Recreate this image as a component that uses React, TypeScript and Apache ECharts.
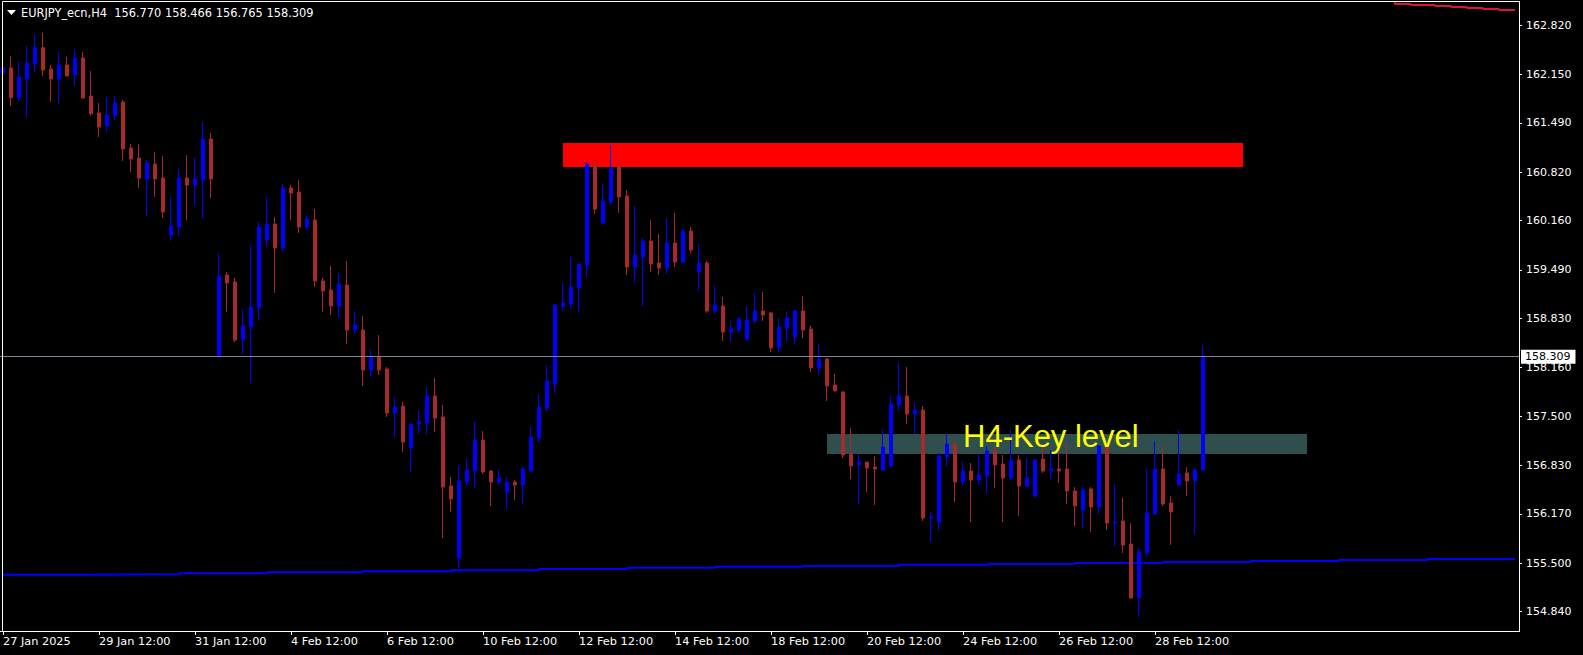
import React, { useEffect, useRef } from "react";
import * as echarts from "echarts";

// ---- chart data ----
const symbolName = "EURJPY_ecn,H4";
const totalSlots = 190; // bar slots shown on the time axis (incl. empty future)
const xTickStep = 12; // bars between time labels
const xTickLabels = [
  "27 Jan 2025", "29 Jan 12:00", "31 Jan 12:00", "4 Feb 12:00", "6 Feb 12:00",
  "10 Feb 12:00", "12 Feb 12:00", "14 Feb 12:00", "18 Feb 12:00", "20 Feb 12:00",
  "24 Feb 12:00", "26 Feb 12:00", "28 Feb 12:00",
];
const yTickValues = [
  154.84, 155.5, 156.17, 156.83, 157.5, 158.16, 158.83, 159.49, 160.16, 160.82,
  161.49, 162.15, 162.82,
];
const yRange = [154.578, 163.136];

const open = [
  162.166, 162.238, 161.834, 162.088, 162.296, 162.514, 162.224, 162.088, 162.279, 162.143,
  162.374, 161.857, 161.626, 161.449, 161.589, 161.775, 161.149, 161.013, 160.728, 160.932,
  160.741, 159.966, 160.075, 160.741, 160.646, 160.714, 161.272, 158.320, 159.422, 159.326,
  158.537, 158.714, 158.973, 159.898, 160.115, 159.789, 160.605, 160.551, 160.075, 160.170,
  159.340, 159.217, 159.000, 159.285, 158.673, 158.673, 158.129, 158.306, 158.143, 157.544,
  157.639, 157.068, 157.394, 157.408, 157.775, 157.490, 156.551, 155.571, 156.605, 156.755,
  157.177, 156.755, 156.605, 156.469, 156.605, 156.564, 156.755, 157.204, 157.612, 157.939,
  159.000, 159.027, 159.245, 159.558, 160.932, 160.129, 160.415, 160.891, 160.496, 159.530,
  159.666, 159.884, 159.585, 159.517, 159.857, 159.598, 160.020, 159.462, 159.585, 158.932,
  159.000, 158.646, 158.673, 158.551, 158.796, 158.932, 158.905, 158.428, 158.700, 158.578,
  158.932, 158.687, 158.156, 158.279, 157.925, 157.830, 156.986, 156.837, 156.877, 156.809,
  156.768, 156.823, 157.653, 157.775, 157.530, 157.585, 156.115, 156.061, 156.945, 157.122,
  156.605, 156.755, 156.632, 156.687, 157.027, 156.850, 156.660, 156.905, 156.551, 156.415,
  156.918, 156.755, 156.782, 156.782, 156.483, 156.224, 156.510, 156.265, 157.095, 156.047,
  156.075, 155.762, 155.027, 155.639, 156.170, 156.782, 156.320, 156.564, 156.728, 156.619,
  156.770,
];
const close = [
  162.242, 161.834, 162.115, 162.306, 162.514, 162.211, 162.088, 162.279, 162.129, 162.374,
  161.830, 161.616, 161.435, 161.598, 161.762, 161.136, 161.000, 160.741, 160.945, 160.728,
  160.279, 160.088, 160.741, 160.646, 160.728, 161.272, 160.728, 159.408, 159.313, 158.537,
  158.728, 158.986, 160.075, 160.115, 159.789, 160.605, 160.537, 160.075, 160.183, 159.340,
  159.204, 159.000, 159.299, 158.673, 158.741, 158.129, 158.306, 158.129, 157.544, 157.626,
  157.149, 157.394, 157.422, 157.775, 157.476, 156.537, 156.374, 156.619, 156.768, 157.177,
  156.741, 156.605, 156.660, 156.605, 156.564, 156.782, 157.217, 157.626, 157.979, 159.013,
  159.041, 159.258, 159.571, 160.932, 160.319, 160.428, 160.877, 160.483, 159.530, 159.694,
  159.884, 159.571, 159.517, 159.857, 159.598, 160.020, 159.762, 159.585, 158.932, 159.013,
  158.646, 158.687, 158.823, 158.809, 158.932, 158.877, 158.428, 158.714, 158.836, 158.932,
  158.673, 158.156, 158.279, 157.911, 157.843, 156.973, 156.823, 156.877, 156.796, 156.782,
  157.081, 157.666, 157.775, 157.530, 157.585, 156.115, 156.129, 156.959, 157.122, 156.605,
  156.755, 156.632, 156.700, 157.027, 156.837, 156.660, 156.905, 156.551, 156.660, 156.905,
  156.755, 156.782, 156.755, 156.483, 156.279, 156.496, 156.265, 157.095, 156.047, 156.061,
  155.748, 155.027, 155.653, 156.183, 156.782, 156.306, 156.197, 156.714, 156.619, 156.768,
  158.309,
];
const high = [
  162.415, 162.401, 162.333, 162.537, 162.687, 162.718, 162.279, 162.456, 162.388, 162.496,
  162.456, 162.197, 161.762, 161.834, 161.857, 161.803, 161.204, 161.204, 160.986, 161.095,
  161.041, 160.496, 160.864, 161.054, 161.013, 161.503, 161.354, 159.721, 159.462, 159.381,
  158.959, 159.830, 160.143, 160.483, 160.211, 160.660, 160.646, 160.714, 160.238, 160.319,
  159.381, 159.544, 159.449, 159.612, 158.932, 158.864, 158.415, 158.605, 158.170, 157.762,
  157.694, 157.408, 157.585, 157.898, 158.020, 157.653, 156.673, 156.823, 156.918, 157.422,
  157.299, 156.768, 156.768, 156.673, 156.632, 156.823, 157.354, 157.803, 158.197, 159.020,
  159.313, 159.666, 159.571, 160.959, 160.959, 160.673, 161.190, 160.959, 160.578, 160.360,
  159.925, 160.170, 159.979, 160.197, 160.265, 160.047, 160.075, 159.843, 159.612, 159.285,
  159.122, 158.796, 158.850, 159.000, 159.177, 159.190, 158.918, 158.836, 158.918, 158.945,
  159.136, 158.728, 158.483, 158.292, 158.075, 157.843, 157.340, 156.986, 156.877, 156.959,
  157.326, 157.775, 158.224, 158.170, 157.680, 157.639, 156.197, 157.000, 157.258, 157.163,
  156.891, 156.864, 156.986, 157.095, 157.095, 156.973, 157.313, 156.973, 156.932, 156.918,
  157.081, 157.041, 157.000, 157.122, 156.537, 156.537, 156.537, 157.109, 157.109, 156.578,
  156.388, 156.047, 155.707, 156.782, 157.163, 157.109, 156.415, 157.313, 156.809, 156.796,
  158.466,
];
const low = [
  161.540, 161.721, 161.779, 161.571, 162.174, 162.129, 161.779, 161.752, 162.129, 161.997,
  161.816, 161.589, 161.299, 161.371, 161.530, 160.973, 160.823, 160.605, 160.224, 160.483,
  160.197, 159.884, 159.952, 160.170, 160.374, 160.197, 160.469, 158.310, 158.918, 158.510,
  158.347, 157.952, 158.796, 159.803, 159.177, 159.734, 160.170, 159.993, 160.034, 159.258,
  158.918, 158.877, 158.836, 158.483, 158.619, 157.911, 158.034, 158.061, 157.490, 157.217,
  157.013, 156.741, 157.258, 157.245, 157.285, 155.843, 156.197, 155.435, 156.551, 156.524,
  156.714, 156.279, 156.564, 156.238, 156.360, 156.306, 156.755, 157.149, 157.558, 157.816,
  158.932, 158.959, 158.905, 159.394, 160.251, 160.102, 160.374, 160.265, 159.422, 159.313,
  159.000, 159.462, 159.422, 159.435, 159.530, 159.585, 159.721, 159.204, 158.905, 158.891,
  158.524, 158.510, 158.632, 158.524, 158.755, 158.796, 158.374, 158.360, 158.524, 158.483,
  158.564, 158.102, 158.061, 157.707, 157.843, 156.932, 156.646, 156.306, 156.469, 156.292,
  156.755, 156.796, 157.571, 157.394, 157.258, 156.075, 155.789, 155.939, 156.823, 156.333,
  156.551, 156.061, 156.564, 156.456, 156.524, 156.061, 156.632, 156.143, 156.537, 156.388,
  156.728, 156.646, 156.592, 156.306, 156.007, 155.966, 155.925, 156.170, 155.952, 155.734,
  155.639, 155.013, 154.768, 155.585, 156.156, 156.279, 155.748, 156.551, 156.415, 155.898,
  156.765,
];

// stepped moving averages: bar index where each level starts, and the level
const blueMaIdx = [0, 11, 22, 33, 45, 56, 67, 78, 89, 100, 112, 123, 134, 145, 156, 167, 178, 189];
const blueMaVal = [
  155.342, 155.350, 155.364, 155.377, 155.391, 155.406, 155.420, 155.437, 155.453,
  155.464, 155.478, 155.489, 155.503, 155.517, 155.530, 155.543, 155.557, 155.557,
];
const redMaIdx = [172, 174, 176, 179, 181, 183, 185, 187, 189];
const redMaVal = [163.2, 163.108, 163.094, 163.081, 163.067, 163.054, 163.04, 163.026, 163.026];

// zones: [fromBar, toBar, topPrice, bottomPrice]
const resistanceZone = [70, 155, 161.217, 160.891];
const keyZone = [103, 163, 157.258, 156.986];
const keyLabelText = "H4-Key level";
const keyLabelAt = [120, 157.228];

const FONT = "DejaVu Sans";

export default function App() {
  const ref = useRef<HTMLDivElement>(null);

  useEffect(() => {
    document.body.style.margin = "0";
    document.body.style.background = "#000";
    const chart = echarts.init(ref.current as HTMLDivElement, null, { renderer: "svg" });

    const categories = Array.from({ length: totalSlots }, (_, i) => String(i));
    const candles = open.map((o, i) => [o, close[i], low[i], high[i]]);
    const last = open.length - 1;
    const titleText =
      symbolName + "  " +
      [open[last], high[last], low[last], close[last]].map((v) => v.toFixed(3)).join(" ");
    const showTick = (i: number) => i % xTickStep === 0 && i / xTickStep < xTickLabels.length;

    chart.setOption({
      animation: false,
      backgroundColor: "#000",
      grid: {
        left: -1,
        top: 2,
        width: 1520,
        height: 629,
        containLabel: false,
        outerBoundsMode: "none",
      },
      xAxis: {
        type: "category",
        data: categories,
        boundaryGap: true,
        axisLine: { show: true, lineStyle: { color: "#ffffff", width: 1 } },
        axisTick: {
          show: true,
          alignWithLabel: true,
          interval: (i: number) => showTick(i),
          length: 4,
          lineStyle: { color: "#ffffff" },
        },
        axisLabel: {
          interval: (i: number) => showTick(i),
          formatter: (_v: string, i: number) => xTickLabels[i / xTickStep] ?? "",
          color: "#ffffff",
          fontSize: 11.3,
          fontFamily: FONT,
          align: "left",
          margin: 5,
        },
        splitLine: { show: false },
      },
      yAxis: {
        type: "value",
        position: "right",
        min: yRange[0],
        max: yRange[1],
        axisLine: { show: true, lineStyle: { color: "#ffffff", width: 1 } },
        axisTick: {
          show: true,
          customValues: yTickValues,
          length: 3,
          lineStyle: { color: "#ffffff" },
        },
        axisLabel: {
          customValues: yTickValues,
          formatter: (v: number) => v.toFixed(3),
          color: "#ffffff",
          fontSize: 11,
          fontFamily: FONT,
          margin: 7,
        },
        splitLine: { show: false },
      },
      graphic: [
        {
          type: "rect",
          silent: true,
          z: 100,
          shape: { x: 2.5, y: 1.5, width: 1517, height: 630 },
          style: { fill: "transparent", stroke: "#ffffff", lineWidth: 1 },
        },
        {
          type: "polygon",
          silent: true,
          z: 100,
          shape: { points: [[7, 10], [16, 10], [11.5, 15]] },
          style: { fill: "#ffffff" },
        },
        {
          type: "text",
          silent: true,
          z: 100,
          x: 21,
          y: 13,
          style: {
            text: titleText,
            fill: "#ffffff",
            fontSize: 11.4,
            fontFamily: FONT,
            verticalAlign: "middle",
          },
        },
      ],
      series: [
        {
          name: "blueMA",
          type: "line",
          z: 1,
          silent: true,
          step: "end",
          showSymbol: false,
          symbol: "none",
          data: blueMaIdx.map((x, i) => [x, blueMaVal[i]]),
          lineStyle: { color: "#0000ff", width: 2 },
        },
        {
          name: "redMA",
          type: "line",
          z: 1,
          silent: true,
          step: "end",
          showSymbol: false,
          symbol: "none",
          data: redMaIdx.map((x, i) => [x, redMaVal[i]]),
          lineStyle: { color: "#dc143c", width: 2 },
        },
        {
          name: symbolName,
          type: "candlestick",
          z: 2,
          data: candles,
          barWidth: 4,
          clip: true,
          itemStyle: {
            color: "#0000ff",
            color0: "#a52a2a",
            borderColor: "#0000ff",
            borderColor0: "#a52a2a",
            borderWidth: 1,
          },
          markArea: {
            silent: true,
            data: [
              [
                {
                  xAxis: resistanceZone[0],
                  yAxis: resistanceZone[2],
                  itemStyle: { color: "#ff0000", opacity: 1, borderWidth: 0 },
                },
                { xAxis: resistanceZone[1], yAxis: resistanceZone[3] },
              ],
              [
                {
                  xAxis: keyZone[0],
                  yAxis: keyZone[2],
                  itemStyle: { color: "#2f4f4f", opacity: 1, borderWidth: 0 },
                },
                { xAxis: keyZone[1], yAxis: keyZone[3] },
              ],
            ],
          },
          markLine: {
            silent: true,
            symbol: ["none", "none"],
            data: [{ yAxis: close[last] }],
            lineStyle: { color: "#778899", width: 1, type: "solid" },
            label: {
              show: true,
              position: "end",
              distance: 2,
              formatter: close[last].toFixed(3),
              color: "#000000",
              backgroundColor: "#ffffff",
              padding: [2, 5, 1, 4],
              fontSize: 11,
              fontFamily: FONT,
            },
          },
          markPoint: {
            silent: true,
            data: [
              {
                coord: keyLabelAt,
                symbol: "rect",
                symbolSize: 0,
                label: {
                  show: true,
                  position: "right",
                  distance: 0,
                  formatter: keyLabelText,
                  color: "#ffff00",
                  fontSize: 31,
                  fontFamily: "Liberation Sans",
                },
              },
            ],
          },
        },
      ],
    });

    return () => chart.dispose();
  }, []);

  return <div ref={ref} style={{ width: 1583, height: 655, background: "#000" }} />;
}
